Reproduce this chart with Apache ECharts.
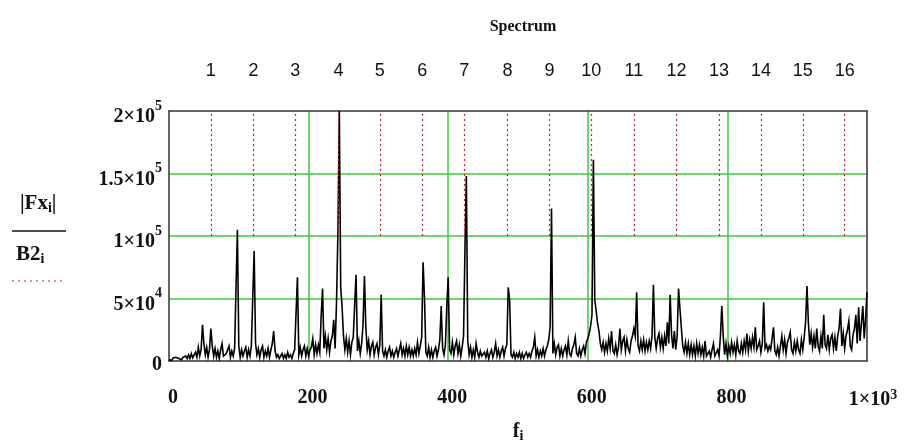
<!DOCTYPE html>
<html>
<head>
<meta charset="utf-8">
<script src="https://cdn.jsdelivr.net/npm/echarts@6/dist/echarts.min.js"></script>
<style>
  html, body { margin: 0; padding: 0; background: #fff; }
  #chart { width: 904px; height: 443px; }
</style>
</head>
<body>
<div id="chart"></div>
<script>
// Spectrum magnitude |Fx_i| in thousands, sampled at f_i = 0, 2, 4, ... 1000
const fStep = 2;
const fxAbsK = [
  1,2,0.5,2.5,1,3,1.5,2,3.5,1,3,1.5,4,2,5,2,6,2.5,4,7,3,11,4,9,29,
  14,5,11,3,9,26,12,4,10,3,8,2,9,14,4,3,6,9,12,3,8,4,10,58,105,
  12,3,9,4,8,11,3,9,4,12,51,88,14,5,10,3,9,12,3,8,4,10,3,9,14,
  24,8,3,5,2,4,6,2,5,2,7,3,5,2,6,9,38,67,5,11,4,9,12,4,10,
  4,9,11,18,5,13,6,13,7,36,58,10,20,9,18,7,16,20,33,10,47,103,200,59,43,
  20,9,18,7,16,5,15,19,45,69,8,16,6,14,29,68,27,9,16,5,12,15,5,11,14,
  5,13,53,8,4,9,3,8,11,4,8,3,7,10,4,9,14,5,10,4,12,5,11,4,9,
  4,10,5,15,6,12,19,79,51,7,4,11,3,9,3,8,11,4,9,17,44,10,5,13,44,
  67,9,6,15,5,12,16,6,13,4,11,20,89,148,16,5,11,3,9,3,14,7,3,8,4,
  3,7,3,8,2,6,9,3,7,14,4,9,3,8,11,4,10,13,59,49,5,3,7,2,6,
  3,7,2,6,2,5,7,3,6,3,8,11,19,4,9,3,8,4,10,4,9,12,17,27,122,
  6,14,5,11,13,4,10,4,9,12,5,16,6,4,10,13,19,6,4,10,4,9,12,6,15,
  18,22,28,37,161,49,40,30,24,14,9,15,7,14,8,18,10,24,8,6,13,5,11,26,9,
  16,19,8,17,10,7,16,20,26,20,55,12,8,16,9,17,8,15,9,16,10,20,61,19,10,
  18,22,11,19,10,20,12,31,14,53,21,10,24,9,20,58,42,27,12,7,15,6,14,5,13,
  5,12,4,14,6,13,5,11,4,16,4,3,8,3,9,14,4,3,9,4,20,44,20,5,14,
  4,12,6,15,7,13,5,16,8,6,14,7,16,9,22,8,17,10,19,11,27,9,12,16,7,
  14,47,10,13,8,12,9,18,27,8,5,11,4,12,20,9,17,6,15,18,23,9,6,15,8,
  16,9,6,17,9,19,31,60,31,13,22,11,20,10,26,12,8,20,10,37,13,10,21,9,18,
  21,10,19,8,20,26,42,12,22,10,20,25,32,12,9,21,26,37,14,43,16,30,44,18,34,
  55
];

// Harmonic markers B2_i: dotted bars from b2Low to b2High at each harmonic
const harmonicFreqs = [60, 121, 181, 243, 302, 363, 423, 485, 545, 605, 666, 727, 788, 848, 908, 968];
const harmonicLabels = ['1','2','3','4','5','6','7','8','9','10','11','12','13','14','15','16'];
const b2Low = 100000;
const b2High = 200000;

// Axis ticks
const xTickValues = [0, 200, 400, 600, 800, 1000];
const xTickMantissa = ['0', '200', '400', '600', '800', '1×10'];
const xTickExp = ['', '', '', '', '', '3'];
const yTickValues = [0, 50000, 100000, 150000, 200000];
const yTickMantissa = ['0', '5×10', '1×10', '1.5×10', '2×10'];
const yTickExp = ['', '4', '5', '5', '5'];

const spectrum = fxAbsK.map((v, i) => [i * fStep, v * 1000]);

const SERIF = '"Liberation Serif", "Times New Roman", serif';
const SANS = '"Liberation Sans", Arial, sans-serif';
const GREEN = '#3cc83c';
const FRAME = '#333';
const RED = '#c02828';

function tickLabel(values, mant, exp, v) {
  const k = values.indexOf(v);
  if (k < 0) return '';
  return exp[k] ? '{m|' + mant[k] + '}{s|' + exp[k] + '}' : '{p|' + mant[k] + '}';
}

const chart = echarts.init(document.getElementById('chart'), null, { renderer: 'canvas' });

chart.setOption({
  animation: false,
  backgroundColor: '#fff',
  title: {
    text: 'Spectrum',
    left: 518,
    top: 14,
    textAlign: 'center',
    textStyle: { fontFamily: SERIF, fontWeight: 'bold', fontSize: 16, color: '#111' }
  },
  grid: { left: 169, top: 111, width: 698, height: 250, containLabel: false, outerBoundsMode: 'none' },
  xAxis: [
    {
      type: 'value', min: 0, max: 1000, interval: 200, position: 'bottom',
      axisLine: { show: true, onZero: false, lineStyle: { color: FRAME, width: 1.5 } },
      axisTick: { show: false },
      splitLine: { show: true, showMinLine: false, showMaxLine: false, lineStyle: { color: GREEN, width: 1.5 } },
      axisLabel: {
        margin: 27,
        formatter: v => tickLabel(xTickValues, xTickMantissa, xTickExp, v),
        rich: {
          p: { fontFamily: SERIF, fontWeight: 'bold', fontSize: 20, color: '#111', padding: [0, 0, 0, 8] },
          m: { fontFamily: SERIF, fontWeight: 'bold', fontSize: 20, color: '#111', padding: [10, 0, 10, 12], lineHeight: 24 },
          s: { fontFamily: SERIF, fontWeight: 'bold', fontSize: 14, color: '#111', verticalAlign: 'top', lineHeight: 14 }
        }
      },
      name: '{f|f}{i|i}',
      nameLocation: 'middle',
      nameMoveOverlap: false,
      nameGap: 60,
      nameTextStyle: {
        rich: {
          f: { fontFamily: SERIF, fontWeight: 'bold', fontSize: 20, color: '#111' },
          i: { fontFamily: SERIF, fontWeight: 'bold', fontSize: 14, color: '#111', verticalAlign: 'bottom', padding: [8, 0, 0, 0] }
        }
      }
    },
    {
      type: 'value', min: 0, max: 1000, position: 'top',
      axisLine: { show: true, onZero: false, lineStyle: { color: FRAME, width: 1.5 } },
      axisTick: { show: false },
      splitLine: { show: false },
      axisLabel: {
        customValues: harmonicFreqs,
        margin: 31,
        fontFamily: SANS,
        fontSize: 18,
        color: '#111',
        formatter: v => harmonicLabels[harmonicFreqs.indexOf(v)] || ''
      }
    }
  ],
  yAxis: [
    {
      type: 'value', min: 0, max: 200000, interval: 50000, position: 'left',
      axisLine: { show: true, onZero: false, lineStyle: { color: FRAME, width: 1.5 } },
      axisTick: { show: false },
      splitLine: { show: true, showMinLine: false, showMaxLine: false, lineStyle: { color: GREEN, width: 1.5 } },
      axisLabel: {
        margin: 7,
        formatter: v => tickLabel(yTickValues, yTickMantissa, yTickExp, v),
        rich: {
          p: { fontFamily: SERIF, fontWeight: 'bold', fontSize: 20, color: '#111', padding: [8, 0, 0, 0] },
          m: { fontFamily: SERIF, fontWeight: 'bold', fontSize: 20, color: '#111', lineHeight: 24, padding: [12, 0, 0, 0] },
          s: { fontFamily: SERIF, fontWeight: 'bold', fontSize: 14, color: '#111', verticalAlign: 'top', lineHeight: 14 }
        }
      }
    },
    {
      type: 'value', min: 0, max: 200000, position: 'right',
      axisLine: { show: true, onZero: false, lineStyle: { color: FRAME, width: 1.5 } },
      axisTick: { show: false },
      axisLabel: { show: false },
      splitLine: { show: false }
    }
  ],
  graphic: [
    {
      type: 'text', left: 20, top: 193,
      style: {
        text: '{b||Fx}{s|i}{b||}',
        rich: {
          b: { fontFamily: SERIF, fontWeight: 'bold', fontSize: 21, fill: '#111' },
          s: { fontFamily: SERIF, fontWeight: 'bold', fontSize: 14, fill: '#111', verticalAlign: 'bottom', padding: [9, 0, 0, 0] }
        }
      }
    },
    { type: 'line', shape: { x1: 12, y1: 231, x2: 66, y2: 231 }, style: { stroke: '#111', lineWidth: 1.5 } },
    {
      type: 'text', left: 16, top: 244,
      style: {
        text: '{b|B2}{s|i}',
        rich: {
          b: { fontFamily: SERIF, fontWeight: 'bold', fontSize: 21, fill: '#111' },
          s: { fontFamily: SERIF, fontWeight: 'bold', fontSize: 14, fill: '#111', verticalAlign: 'bottom', padding: [9, 0, 0, 0] }
        }
      }
    },
    { type: 'line', shape: { x1: 12, y1: 281, x2: 63, y2: 281 }, style: { stroke: RED, lineWidth: 1, lineDash: [2, 4] } }
  ],
  series: [
    {
      name: '|Fx_i|',
      type: 'line',
      data: spectrum,
      xAxisIndex: 0,
      yAxisIndex: 0,
      showSymbol: false,
      symbol: 'none',
      clip: true,
      sampling: false,
      lineStyle: { color: '#000', width: 1.6, join: 'miter' },
      z: 3
    },
    {
      name: 'B2_i',
      type: 'line',
      data: [],
      xAxisIndex: 0,
      yAxisIndex: 0,
      symbol: 'none',
      markLine: {
        silent: true,
        symbol: ['none', 'none'],
        label: { show: false },
        lineStyle: { color: RED, width: 1.2, type: [2, 3] },
        data: harmonicFreqs.map(f => [{ coord: [f, b2Low] }, { coord: [f, b2High] }])
      },
      z: 4
    }
  ]
});
</script>
</body>
</html>
